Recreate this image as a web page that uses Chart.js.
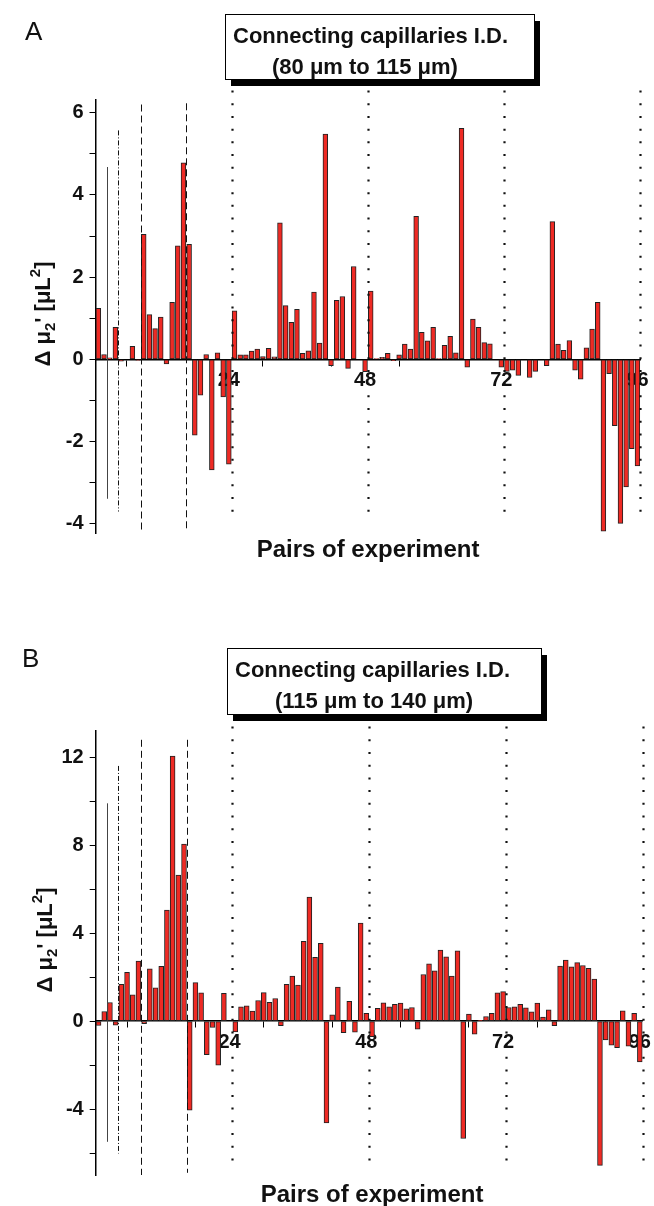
<!DOCTYPE html>
<html>
<head>
<meta charset="utf-8">
<script src="https://cdn.jsdelivr.net/npm/chart.js@4.4.1/dist/chart.umd.min.js"></script>
<style>
  html, body { margin: 0; padding: 0; background: #fff; }
  .panel { position: absolute; left: 0; width: 654px; }
  #wrapA { top: 0; height: 600px; }
  #wrapB { top: 600px; height: 606px; }
</style>
</head>
<body>
<div class="panel" id="wrapA"><canvas id="chartA" width="654" height="600"></canvas></div>
<div class="panel" id="wrapB"><canvas id="chartB" width="654" height="606"></canvas></div>
<script>
// pair numbers (1..96) on the x axis
const pairs = Array.from({ length: 96 }, (_, i) => i + 1);

// panel A: 80 um to 115 um
const deltaA = [
  1.24, 0.12, 0.04, 0.78, -0.04, 0, 0.32, -0.02, 3.04, 1.09, 0.75, 1.03,
  -0.11, 1.39, 2.76, 4.78, 2.80, -1.84, -0.87, 0.12, -2.69, 0.16, -0.91, -2.55,
  1.18, 0.11, 0.11, 0.20, 0.25, 0.07, 0.27, 0.06, 3.32, 1.31, 0.90, 1.22,
  0.15, 0.21, 1.64, 0.40, 5.48, -0.15, 1.44, 1.53, -0.22, 2.26, 0, -0.30,
  1.66, 0.02, 0.05, 0.15, -0.03, 0.11, 0.37, 0.25, 3.48, 0.66, 0.45, 0.78,
  0.02, 0.34, 0.56, 0.16, 5.62, -0.19, 0.98, 0.78, 0.41, 0.38, 0, -0.19,
  -0.29, -0.26, -0.39, 0, -0.44, -0.29, 0, -0.15, 3.35, 0.37, 0.22, 0.46,
  -0.26, -0.48, 0.28, 0.74, 1.39, -4.18, -0.35, -1.61, -3.99, -3.10, -2.17, -2.59
];

// panel B: 115 um to 140 um
const deltaB = [
  -0.20, 0.44, 0.85, -0.18, 1.68, 2.22, 1.20, 2.73, -0.11, 2.38, 1.52, 2.49,
  5.05, 12.06, 6.64, 8.06, -4.05, 1.75, 1.29, -1.53, -0.29, -2.00, 1.26, 0,
  -0.49, 0.65, 0.70, 0.46, 0.94, 1.30, 0.86, 1.03, -0.21, 1.67, 2.05, 1.64,
  3.63, 5.64, 2.90, 3.54, -4.63, 0.29, 1.55, -0.52, 0.90, -0.50, 4.46, 0.35,
  -0.71, 0.58, 0.83, 0.65, 0.76, 0.82, 0.56, 0.62, -0.36, 2.12, 2.61, 2.29,
  3.23, 2.93, 2.05, 3.20, -5.34, 0.32, -0.59, 0.03, 0.21, 0.35, 1.29, 1.34,
  0.62, 0.65, 0.76, 0.61, 0.42, 0.82, 0.18, 0.52, -0.21, 2.50, 2.78, 2.47,
  2.66, 2.53, 2.40, 1.91, -6.56, -0.86, -1.09, -1.21, 0.47, -1.14, 0.35, -1.85
];

// axis ticks
const xTicks = [12, 24, 36, 48, 60, 72, 84, 96];
const xTickLabels = [24, 48, 72, 96];
const yTicksA = [-4, -3, -2, -1, 0, 1, 2, 3, 4, 5, 6];
const yTickLabelsA = [-4, -2, 0, 2, 4, 6];
const yTicksB = [-6, -4, -2, 0, 2, 4, 6, 8, 10, 12];
const yTickLabelsB = [-4, 0, 4, 8, 12];

// group separators: position on x, extent on y
const guideX = [2.5, 4.5, 8.5, 16.5, 24.5, 48.5, 72.5, 96.5];
const guideKind = ['solid', 'dashdot', 'dash', 'dash', 'dot', 'dot', 'dot', 'dot'];
const guideTopA = [4.68, 5.57, 6.20, 6.23, 6.54, 6.54, 6.54, 6.54];
const guideBottomA = [-3.39, -3.70, -4.19, -4.15, -3.93, -3.93, -3.93, -3.93];
const guideTopB = [9.91, 11.61, 12.8, 12.8, 13.4, 13.4, 13.4, 13.4];
const guideBottomB = [-5.49, -6.02, -7.0, -6.9, -6.5, -6.5, -6.5, -6.5];

const FONT = "'Liberation Sans', Arial, sans-serif";

// separators, labels, title box and axis titles
const decor = {
  id: 'decor',
  afterDatasetsDraw(chart, args, o) {
    const { ctx, scales: { x, y } } = chart;
    ctx.save();
    guideX.forEach((gx, i) => {
      const px = Math.round(x.getPixelForValue(gx)) + 0.5;
      const kind = guideKind[i];
      ctx.beginPath();
      ctx.strokeStyle = kind === 'solid' ? '#444' : '#111';
      ctx.lineWidth = 1;
      ctx.lineCap = 'butt';
      if (kind === 'dashdot') ctx.setLineDash([5, 2, 1, 2]);
      else if (kind === 'dash') ctx.setLineDash([7, 4]);
      else if (kind === 'dot') { ctx.setLineDash([2, 10.7]); ctx.lineWidth = 2.2; }
      else ctx.setLineDash([]);
      ctx.moveTo(px, y.getPixelForValue(o.top[i]));
      ctx.lineTo(px, y.getPixelForValue(o.bottom[i]));
      ctx.stroke();
    });
    ctx.setLineDash([]);
    ctx.restore();
  },
  afterDraw(chart, args, o) {
    const ctx = chart.ctx;
    ctx.save();
    ctx.fillStyle = '#111';
    ctx.textBaseline = 'alphabetic';

    // panel letter
    ctx.font = '26px ' + FONT;
    ctx.textAlign = 'left';
    ctx.fillText(o.letter, o.letterX, o.letterY);

    // title box with shadow
    const b = o.box;
    ctx.fillStyle = '#000';
    ctx.fillRect(b.x + 6, b.y + 7, b.w, b.h);
    ctx.fillStyle = '#fff';
    ctx.fillRect(b.x, b.y, b.w, b.h);
    ctx.strokeStyle = '#000';
    ctx.lineWidth = 1;
    ctx.strokeRect(b.x + 0.5, b.y + 0.5, b.w, b.h);
    ctx.fillStyle = '#111';
    ctx.font = 'bold 22px ' + FONT;
    ctx.fillText(o.line1, b.x + 8, b.y + 29);
    ctx.fillText(o.line2, b.x + b.line2x, b.y + 60);

    // x title
    ctx.textAlign = 'center';
    ctx.font = 'bold 24px ' + FONT;
    ctx.fillText('Pairs of experiment', o.xTitleX, o.xTitleY);

    // y title, rotated, with sub/superscripts
    const parts = [
      { t: 'Δ μ', s: 22, dy: 0 },
      { t: '2', s: 15, dy: 5 },
      { t: "'", s: 22, dy: 0 },
      { t: ' [μL', s: 22, dy: 0 },
      { t: '2', s: 15, dy: -10 },
      { t: ']', s: 22, dy: 0 }
    ];
    let total = 0;
    parts.forEach(p => { ctx.font = 'bold ' + p.s + 'px ' + FONT; p.w = ctx.measureText(p.t).width; total += p.w; });
    ctx.translate(o.yTitleX, o.yTitleY);
    ctx.rotate(-Math.PI / 2);
    ctx.textAlign = 'left';
    let cx = -total / 2;
    parts.forEach(p => {
      ctx.font = 'bold ' + p.s + 'px ' + FONT;
      ctx.fillText(p.t, cx, p.dy);
      cx += p.w;
    });
    ctx.restore();
  }
};

function buildPanel(canvasId, values, opt) {
  return new Chart(document.getElementById(canvasId), {
    type: 'bar',
    data: {
      datasets: [{
        data: pairs.map((p, i) => ({ x: p, y: values[i] })),
        backgroundColor: '#ee2a24',
        borderColor: '#222',
        borderWidth: 1,
        borderSkipped: false,
        barThickness: opt.barWidth
      }]
    },
    options: {
      responsive: false,
      animation: false,
      devicePixelRatio: 1,
      layout: { padding: opt.padding },
      plugins: {
        legend: { display: false },
        tooltip: { enabled: false },
        decor: opt.decor
      },
      scales: {
        x: {
          type: 'linear',
          position: { y: 0 },
          min: 0.5,
          max: 96.5,
          offset: false,
          afterBuildTicks: s => { s.ticks = xTicks.map(v => ({ value: v })); },
          ticks: {
            autoSkip: false,
            maxRotation: 0,
            padding: 3,
            color: '#111',
            font: { family: FONT, size: 20, weight: 'bold' },
            callback: v => xTickLabels.includes(v) ? String(v) : ''
          },
          grid: { drawOnChartArea: false, drawTicks: true, tickLength: 6, color: '#000', lineWidth: 1 },
          border: { color: '#000', width: 1.5 }
        },
        y: {
          min: opt.yMin,
          max: opt.yMax,
          afterBuildTicks: s => { s.ticks = opt.yTicks.map(v => ({ value: v })); },
          afterFit: s => { s.width = 50; },
          ticks: {
            padding: 6,
            color: '#111',
            font: { family: FONT, size: 20, weight: 'bold' },
            callback: v => opt.yLabels.includes(v) ? String(v) : ''
          },
          grid: { drawOnChartArea: false, drawTicks: true, tickLength: 6, color: '#000', lineWidth: 1 },
          border: { color: '#000', width: 1.5 }
        }
      }
    },
    plugins: [decor]
  });
}

buildPanel('chartA', deltaA, {
  padding: { left: 45.5, right: 13.7, top: 100, bottom: 66.7 },
  yMin: -4.23, yMax: 6.31, barWidth: 4.8,
  yTicks: yTicksA, yLabels: yTickLabelsA,
  decor: {
    top: guideTopA, bottom: guideBottomA,
    letter: 'A', letterX: 25, letterY: 40,
    box: { x: 225, y: 14, w: 309, h: 65, line2x: 47 },
    line1: 'Connecting capillaries I.D.',
    line2: '(80 μm to 115 μm)',
    xTitleX: 368, xTitleY: 557,
    yTitleX: 50, yTitleY: 314
  }
});

buildPanel('chartB', deltaB, {
  padding: { left: 45.7, right: 5, top: 131, bottom: 31 },
  yMin: -7.0, yMax: 13.2, barWidth: 4.9,
  yTicks: yTicksB, yLabels: yTickLabelsB,
  decor: {
    top: guideTopB, bottom: guideBottomB,
    letter: 'B', letterX: 22, letterY: 67,
    box: { x: 227, y: 48, w: 314, h: 66, line2x: 48 },
    line1: 'Connecting capillaries I.D.',
    line2: '(115 μm to 140 μm)',
    xTitleX: 372, xTitleY: 602,
    yTitleX: 52, yTitleY: 340
  }
});
</script>
</body>
</html>
